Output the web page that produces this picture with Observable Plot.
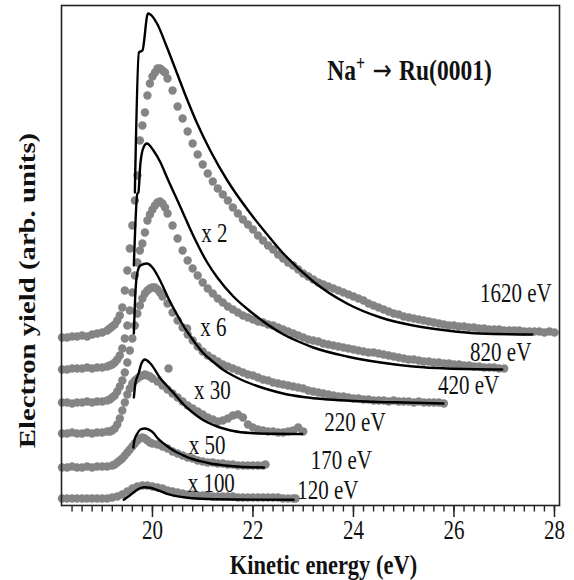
<!DOCTYPE html>
<html>
<head>
<meta charset="utf-8">
<script src="https://cdn.jsdelivr.net/npm/d3@7"></script>
<script src="https://cdn.jsdelivr.net/npm/@observablehq/plot@0.6"></script>
<style>
  html, body { margin: 0; padding: 0; background: #fff; }
  #chart { width: 574px; height: 580px; }
</style>
</head>
<body>
<div id="chart"></div>
<script>
// ---------- data (kinetic energy in eV, electron yield in arb. units incl. vertical offsets) ----------
const seriesNames = ["1620 eV", "820 eV", "420 eV", "220 eV", "170 eV", "120 eV"];

const dots1620 = [[18.2,168],[18.3,168],[18.4,169],[18.5,169],[18.6,170],[18.7,169],[18.8,171],[18.9,172],[19.0,173],[19.1,175],[19.15,177],[19.2,179],[19.25,181],[19.3,185],[19.35,190],[19.4,198],[19.45,215],[19.5,235],[19.55,257],[19.6,280],[19.65,305],[19.7,330],[19.75,365],[19.8,380],[19.85,393],[19.9,410],[19.95,422],[20.0,429],[20.05,433],[20.1,437],[20.15,437],[20.2,435],[20.25,433],[20.3,427],[20.4,415],[20.5,399],[20.6,387],[20.7,374],[20.8,362],[20.9,351],[21.0,341],[21.1,332],[21.2,324],[21.3,317],[21.4,311],[21.5,305],[21.6,298],[21.7,292],[21.8,286],[21.9,281],[22.0,276],[22.1,270],[22.2,265],[22.3,260],[22.4,256],[22.5,251],[22.6,247],[22.7,243],[22.8,240],[22.9,236],[23.0,232],[23.1,229],[23.2,226],[23.3,223],[23.4,221],[23.5,219],[23.6,217],[23.7,215],[23.8,213],[23.9,211],[24.0,209],[24.1,207],[24.2,205],[24.3,202],[24.4,200],[24.5,198],[24.6,196],[24.7,194],[24.8,192],[24.9,191],[25.0,189],[25.1,188],[25.2,187],[25.3,186],[25.4,185],[25.5,184],[25.6,183],[25.7,182],[25.8,181],[25.9,180],[26.0,180],[26.1,179],[26.2,179],[26.3,178],[26.4,178],[26.5,177],[26.6,177],[26.7,176],[26.8,176],[26.9,176],[27.0,175],[27.1,175],[27.2,175],[27.3,175],[27.4,174],[27.5,174],[27.6,174],[27.7,174],[27.8,173],[27.9,174],[28.0,173]];
const fit1620 = [[19.65,313],[19.73,453],[19.80,455],[19.91,492],[19.96,491],[20.09,482],[20.29,458],[20.49,432],[20.69,406],[20.89,382],[21.15,355],[21.49,325],[21.95,292],[22.25,273],[22.55,255],[23.20,224],[23.87,202],[24.54,188],[25.19,180],[25.86,175],[26.53,172],[27.56,171]];

const dots820 = [[18.2,136],[18.3,136],[18.4,137],[18.5,137],[18.6,137],[18.7,138],[18.8,137],[18.9,138],[19.0,138],[19.1,139],[19.15,140],[19.2,141],[19.25,143],[19.3,146],[19.35,150],[19.4,157],[19.45,167],[19.5,180],[19.55,195],[19.6,213],[19.65,230],[19.7,243],[19.75,255],[19.8,262],[19.85,273],[19.9,285],[19.95,291],[20.0,296],[20.05,300],[20.1,303],[20.15,304],[20.2,302],[20.25,298],[20.3,292],[20.4,280],[20.5,267],[20.6,255],[20.7,245],[20.8,237],[20.9,230],[21.0,223],[21.1,217],[21.2,212],[21.3,207],[21.4,203],[21.5,199],[21.6,196],[21.7,193],[21.8,190],[21.9,188],[22.0,186],[22.1,184],[22.2,183],[22.3,181],[22.4,180],[22.5,178],[22.6,176],[22.7,174],[22.8,172],[22.9,170],[23.0,168],[23.1,166],[23.2,165],[23.3,164],[23.4,162],[23.5,161],[23.6,160],[23.7,159],[23.8,158],[23.9,157],[24.0,156],[24.1,155],[24.2,154],[24.3,153],[24.4,153],[24.5,152],[24.6,151],[24.7,150],[24.8,149],[24.9,148],[25.0,147],[25.1,146],[25.2,146],[25.3,145],[25.4,144],[25.5,144],[25.6,143],[25.7,143],[25.8,142],[25.9,142],[26.0,141],[26.1,141],[26.2,140],[26.3,140],[26.4,139],[26.5,139],[26.6,138],[26.7,138],[26.8,138],[26.9,137],[27.0,137]];
const fit820 = [[19.63,240],[19.70,312],[19.72,313],[19.76,342],[19.83,359],[19.89,362],[20.02,355],[20.16,343],[20.29,328],[20.56,298],[20.82,269],[21.09,243],[21.29,228],[21.61,209],[21.95,194],[22.61,171],[22.95,163],[23.20,158],[23.87,149],[24.54,143],[25.19,139],[25.86,137],[26.96,136]];

const dots420 = [[18.2,103],[18.3,103],[18.4,102],[18.5,103],[18.6,103],[18.7,104],[18.8,103],[18.9,104],[19.0,104],[19.1,105],[19.15,106],[19.2,108],[19.25,110],[19.3,114],[19.35,119],[19.4,125],[19.45,133],[19.5,143],[19.55,155],[19.6,167],[19.65,180],[19.7,192],[19.75,200],[19.8,207],[19.85,212],[19.9,215],[19.95,217],[20.0,218],[20.05,218],[20.1,216],[20.15,213],[20.2,209],[20.3,202],[20.4,193],[20.5,185],[20.6,178],[20.69,177],[20.7,171],[20.8,165],[20.9,159],[21.0,154],[21.1,150],[21.2,147],[21.3,144],[21.4,141],[21.5,139],[21.6,137],[21.7,135],[21.8,133],[21.9,131],[22.0,130],[22.1,128],[22.2,126],[22.3,125],[22.4,123],[22.5,122],[22.6,121],[22.7,120],[22.8,119],[22.9,118],[23.0,117],[23.1,115],[23.2,114],[23.3,113],[23.4,112],[23.5,111],[23.6,110],[23.7,109],[23.8,109],[23.9,108],[24.0,107],[24.1,107],[24.2,106],[24.3,106],[24.4,105],[24.5,105],[24.6,105],[24.7,104],[24.8,105],[24.9,104],[25.0,104],[25.1,104],[25.2,103],[25.3,104],[25.4,103],[25.5,103],[25.6,103],[25.7,103],[25.8,102]];
const fit420 = [[19.63,172],[19.66,212],[19.70,233],[19.76,240],[19.89,242],[20.0,238],[20.1,230],[20.2,220],[20.3,209],[20.4,199],[20.5,190],[20.6,181],[20.8,166],[21.0,153],[21.2,144],[21.4,136],[21.6,130],[21.8,125],[22.0,121],[22.3,116],[22.6,112],[23.0,108.5],[23.5,106],[24.0,104.5],[24.5,103.5],[25.0,103],[25.79,102]];

const dots220 = [[18.2,72],[18.3,72],[18.4,73],[18.5,72],[18.6,72],[18.7,73],[18.8,72],[18.9,73],[19.0,73],[19.1,74],[19.15,74],[19.2,75],[19.25,77],[19.3,81],[19.35,87],[19.4,95],[19.45,103],[19.5,111],[19.55,117],[19.6,122],[19.65,125],[19.7,127],[19.75,129],[19.8,130],[19.85,131],[19.9,130],[19.95,129],[20.0,127],[20.1,124],[20.2,120],[20.3,116],[20.32,137],[20.4,112],[20.5,108],[20.6,104],[20.7,100],[20.8,97],[20.9,94],[21.0,91],[21.1,88],[21.2,86],[21.3,84],[21.4,85],[21.5,87],[21.6,90],[21.7,91],[21.8,88],[21.9,81],[22.0,78],[22.1,76],[22.2,75],[22.3,74],[22.4,74],[22.5,73],[22.6,73],[22.7,74],[22.8,75],[22.9,78],[23.0,74]];
const fit220 = [[19.63,108],[19.66,122],[19.73,133],[19.78,142],[19.85,146],[19.96,142],[20.16,127],[20.3,119],[20.42,112.5],[20.62,101],[20.8,93],[20.96,87],[21.1,83],[21.29,79],[21.45,76.5],[21.61,74.5],[21.95,72.5],[22.45,71.7],[22.98,71.5]];

const dots170 = [[18.2,38],[18.3,38],[18.4,39],[18.5,38],[18.6,38],[18.7,39],[18.8,38],[18.9,39],[19.0,39],[19.1,39],[19.2,40],[19.25,41],[19.3,43],[19.35,45],[19.4,47],[19.45,50],[19.5,53],[19.55,56],[19.6,59],[19.65,62],[19.7,65],[19.75,67],[19.8,68],[19.85,67],[19.9,65],[19.95,63],[20.0,62],[20.1,61],[20.2,59],[20.3,57],[20.4,54],[20.5,52],[20.6,50],[20.7,48],[20.8,47],[20.9,45],[21.0,44],[21.1,43],[21.2,43],[21.3,42],[21.4,42],[21.5,41],[21.6,41],[21.7,40],[21.8,40],[21.9,40],[22.0,40],[22.1,40],[22.2,40],[22.25,41]];
const fit170 = [[19.62,58],[19.64,65],[19.70,72],[19.76,76],[19.85,77],[19.96,75],[20.03,72],[20.09,68],[20.25,61],[20.42,55],[20.6,50.5],[20.76,47],[20.95,44.3],[21.15,42],[21.45,40],[21.75,38.7],[22.22,38]];

const dots120 = [[18.2,7],[18.3,7],[18.4,7],[18.5,7],[18.6,7],[18.7,7],[18.8,7],[18.9,7],[19.0,7],[19.1,7],[19.2,8],[19.3,9],[19.4,11],[19.5,14],[19.6,17],[19.7,19],[19.8,20],[19.9,20],[20.0,19],[20.1,18],[20.2,17],[20.3,15],[20.4,14],[20.5,13],[20.6,12],[20.7,11],[20.8,11],[20.9,10],[21.0,10],[21.1,10],[21.2,9],[21.3,9],[21.4,9],[21.5,9],[21.6,9],[21.7,8],[21.8,8],[21.9,8],[22.0,8],[22.1,8],[22.2,8],[22.3,8],[22.4,8],[22.5,8],[22.6,7],[22.7,7],[22.8,7],[22.85,7]];
const fit120 = [[19.43,5.7],[19.52,9],[19.63,13.3],[19.73,16.7],[19.83,18.3],[19.96,17.7],[20.12,15],[20.29,11.7],[20.62,8.3],[20.96,6.7],[21.61,6],[22.81,5.7]];

// labels (anchored in data units)
const energyLabelText = ["1620 eV", "820 eV", "420 eV", "220 eV", "170 eV", "120 eV"];
const energyLabelX = [27.23, 26.93, 26.29, 24.03, 23.76, 23.49];
const energyLabelY = [212, 153, 120, 83, 45, 15];
const factorText = ["x 2", "x 6", "x 30", "x 50", "x 100"];
const factorX = [21.23, 21.21, 21.19, 21.09, 21.17];
const factorY = [272, 178, 115, 60, 22];
const titleText = "Na+ \u2192 Ru(0001)";
const titleX = 23.48, titleY = 435;
const xTitle = "Kinetic energy (eV)";
const yTitle = "Electron yield (arb. units)";
const majorTicks = [20, 22, 24, 26, 28];
const minorTicks = d3.range(184, 281, 2).map(d => d / 10);   // 18.4 … 28.0 every 0.2 eV

// ---------- build tables ----------
const dotSets = [dots1620, dots820, dots420, dots220, dots170, dots120];
const fitSets = [fit1620, fit820, fit420, fit220, fit170, fit120];
const dotData = dotSets.flatMap((arr, i) => arr.map(([x, y]) => ({series: seriesNames[i], x, y})));
const fitData = fitSets.flatMap((arr, i) => arr.map(([x, y]) => ({series: seriesNames[i], x, y})));
const energyLabels = energyLabelText.map((t, i) => ({t, x: energyLabelX[i], y: energyLabelY[i]}));
const factorLabels = factorText.map((t, i) => ({t, x: factorX[i], y: factorY[i]}));

const serif = "'Liberation Serif', 'Times New Roman', 'DejaVu Serif', serif";

const chart = Plot.plot({
  width: 574,
  height: 580,
  marginLeft: 61,
  marginRight: 15,
  marginTop: 5,
  marginBottom: 75,
  style: {fontFamily: serif, background: "#fff", color: "#111", overflow: "visible"},
  x: {domain: [18.19, 28.1], axis: null, label: null},
  y: {domain: [0, 500], axis: null, label: null},
  marks: [
    Plot.dot(dotData, {x: "x", y: "y", r: 4.2, fill: "#848484", stroke: "none"}),
    Plot.line(fitData, {x: "x", y: "y", z: "series", stroke: "#000", strokeWidth: 2.4, curve: "monotone-x"}),
    Plot.frame({stroke: "#222", strokeWidth: 1.6}),
    // outward ticks below the frame (tick lengths expressed in y units)
    Plot.ruleX(minorTicks, {x: d => d, y1: 0, y2: -6.5, stroke: "#222", strokeWidth: 1.4}),
    Plot.ruleX(majorTicks, {x: d => d, y1: 0, y2: -12, stroke: "#222", strokeWidth: 1.5}),
    Plot.text(majorTicks, {x: d => d, text: d => String(d), frameAnchor: "bottom", lineAnchor: "middle", textAnchor: "middle", dy: 25, fontSize: 21, fill: "#111"}),
    Plot.text(energyLabels, {x: "x", y: "y", text: "t", fontSize: 21, fill: "#111"}),
    Plot.text(factorLabels, {x: "x", y: "y", text: "t", fontSize: 21, fill: "#111"}),
    Plot.text([titleText], {x: titleX, y: titleY, text: d => d, textAnchor: "start", fontSize: 23.5, fontWeight: "bold", fill: "#111"}),
    Plot.text([xTitle], {frameAnchor: "bottom", textAnchor: "middle", lineAnchor: "middle", dx: 13, dy: 59, text: d => d, fontSize: 22.5, fontWeight: "bold", fill: "#111"}),
    Plot.text([yTitle], {frameAnchor: "left", textAnchor: "middle", lineAnchor: "middle", rotate: -90, dx: -34, dy: 35, text: d => d, fontSize: 22.8, fontWeight: "bold", fill: "#111"})
  ]
});

// title: superscript "+" and a long thin arrow, as in the original
const titleEl = Array.from(chart.querySelectorAll("text")).find(t => t.textContent === titleText);
if (titleEl) {
  titleEl.textContent = "";
  const add = (txt, attrs) => {
    const ts = document.createElementNS("http://www.w3.org/2000/svg", "tspan");
    ts.textContent = txt;
    for (const k in attrs) ts.setAttribute(k, attrs[k]);
    titleEl.append(ts);
  };
  add("Na", {});
  add("+", {"font-size": "16", "dy": "-8"});
  add(" \u2192 ", {"dy": "8", "font-family": "'DejaVu Sans', sans-serif", "font-weight": "normal", "font-size": "23"});
  add("Ru(0001)", {});
}

// the original figure is stretched vertically: stretch the glyphs the same way
chart.querySelectorAll("text").forEach(el => {
  const tr = el.getAttribute("transform");
  if (!tr) return;
  el.setAttribute("transform", tr + (tr.includes("rotate") ? " scale(1.26,1)" : " scale(1,1.26)"));
});

document.getElementById("chart").append(chart);
</script>
</body>
</html>
